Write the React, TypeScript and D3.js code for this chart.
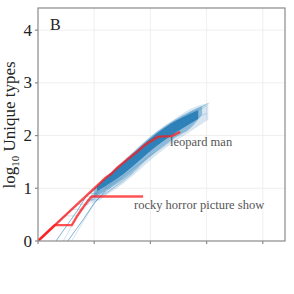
import React from "react";
import * as d3 from "d3";

// log10 tokens vs log10 unique types
const leopardMan: [number, number][] = [
  [0, 0], [1.0, 1.0], [1.19, 1.19], [1.31, 1.28], [1.4, 1.38], [1.58, 1.54],
  [1.76, 1.69], [1.9, 1.82], [2.14, 1.98], [2.38, 1.99], [2.47, 2.04], [2.53, 2.07],
];
const rockyHorror: [number, number][] = [
  [0, 0], [0.301, 0.301], [0.602, 0.301], [0.699, 0.477], [0.778, 0.602],
  [0.845, 0.699], [0.903, 0.778], [0.954, 0.845], [1.87, 0.845],
];

// simulated runs, envelopes of the bundle
const bandUpper: [number, number][] = [
  [0.95, 0.95], [1.52, 1.52], [2.11, 2.08], [2.45, 2.33], [2.7, 2.5], [3.03, 2.62],
];
const bandLower: [number, number][] = [
  [0.95, 0.7], [1.52, 1.09], [2.11, 1.63], [2.45, 1.9], [2.7, 2.07], [2.95, 2.3],
];
const midUpper: [number, number][] = [
  [1.0, 1.0], [1.52, 1.51], [2.11, 2.07], [2.45, 2.31], [2.7, 2.45], [2.92, 2.55],
];
const midLower: [number, number][] = [
  [1.0, 0.82], [1.52, 1.17], [2.11, 1.7], [2.45, 1.97], [2.7, 2.13], [2.92, 2.4],
];
const coreUpper: [number, number][] = [
  [1.05, 1.05], [1.2, 1.2], [1.52, 1.49], [2.11, 2.04], [2.45, 2.28], [2.7, 2.41], [2.85, 2.48],
];
const coreLower: [number, number][] = [
  [1.05, 0.95], [1.2, 1.04], [1.52, 1.27], [2.11, 1.8], [2.45, 2.06], [2.7, 2.22], [2.85, 2.32],
];
// a few single runs that show outside the bundle
const blueRuns: [number, number][][] = [
  [[0.32, 0], [0.71, 0.59], [0.85, 0.84], [1.05, 1.02]],
  [[0.53, 0], [0.8, 0.4], [1.0, 0.72], [1.2, 0.95]],
  [[0.45, 0], [0.7, 0.48], [0.9, 0.78], [1.1, 0.98]],
  [[0.6, 0], [0.85, 0.45], [1.05, 0.78], [1.3, 1.02]],
  [[0, 0], [0.477, 0.477], [0.72, 0.477], [0.9, 0.8], [1.05, 0.95]],
  [[0, 0], [0.602, 0.602], [0.82, 0.602], [0.98, 0.85], [1.1, 0.98]],
  [[0, 0], [0.699, 0.699], [0.9, 0.699], [1.05, 0.9]],
  [[0, 0], [0.778, 0.778], [0.95, 0.778], [1.1, 0.96]],
  [[0.85, 0.845], [1.0, 0.845], [1.2, 0.98], [1.5, 1.2]],
  [[0.9, 0.9], [1.05, 0.9], [1.25, 1.05], [1.6, 1.35]],
  [[0.95, 0.78], [1.1, 0.78], [1.3, 0.98], [1.7, 1.3]],
  [[0.9, 0.75], [1.2, 0.9], [1.5, 1.12], [1.8, 1.4]],
  [[1.2, 1.0], [1.6, 1.3], [2.0, 1.62], [2.4, 1.92]],
  [[2.5, 2.3], [2.8, 2.5], [3.05, 2.62]],
  [[2.5, 2.25], [2.8, 2.45], [3.0, 2.56]],
  [[2.6, 2.2], [2.85, 2.35], [3.0, 2.42]],
  [[2.4, 2.2], [2.7, 2.42], [2.98, 2.58]],
];
const yTicks = [0, 1, 2, 3, 4];
const xTicks = [0, 1, 2, 3, 4];

export default function App() {
  const x = d3.scaleLinear().domain([0, 4.395]).range([38, 285]);
  const y = d3.scaleLinear().domain([0, 4.42]).range([241, 8]);
  const poly = d3.line<[number, number]>().x(d => x(d[0])).y(d => y(d[1]));
  const area = (up: [number, number][], lo: [number, number][]) =>
    d3.area<[number, number]>()
      .x(d => x(d[0]))
      .y0((d, i) => y(lo[i][1]))
      .y1(d => y(d[1]))
      .curve(d3.curveMonotoneX)(up) || "";

  const font = "Liberation Serif";

  return (
    <svg width={294} height={294} style={{ position: "absolute", left: 0, top: 0, background: "#fff" }}>
      <defs>
        <clipPath id="plot">
          <rect x={38} y={8} width={247} height={233} />
        </clipPath>
      </defs>
      {/* grid */}
      {yTicks.slice(1).map(t => (
        <line key={"gy" + t} x1={38} x2={285} y1={y(t)} y2={y(t)} stroke="#ebebeb" strokeWidth={0.8} />
      ))}
      {xTicks.slice(1).map(t => (
        <line key={"gx" + t} x1={x(t)} x2={x(t)} y1={8} y2={241} stroke="#ebebeb" strokeWidth={0.8} />
      ))}

      <g clipPath="url(#plot)">
        {/* blue bundle */}
        <path d={area(bandUpper, bandLower)} fill="#1f77b4" opacity={0.18} />
        <path d={area(midUpper, midLower)} fill="#1f77b4" opacity={0.4} />
        <path d={area(coreUpper, coreLower)} fill="#1f77b4" opacity={0.85} />
        {blueRuns.map((r, i) => (
          <path key={"b" + i} d={poly(r) || ""} fill="none" stroke="#1f77b4" strokeWidth={0.7} opacity={i < 2 ? 0.8 : 0.3} />
        ))}
        {/* red films */}
        <path d={poly(rockyHorror) || ""} fill="none" stroke="#ff1a1a" strokeWidth={2.4} opacity={0.75} strokeLinejoin="round" />
        <path d={poly(leopardMan) || ""} fill="none" stroke="#ff1a1a" strokeWidth={2.4} opacity={0.75} strokeLinejoin="round" />
      </g>

      {/* frame */}
      <rect x={38} y={8} width={247} height={233} fill="none" stroke="#8a8a8a" strokeWidth={1.2} />
      {yTicks.map(t => (
        <g key={"ty" + t}>
          <line x1={35} x2={38} y1={y(t)} y2={y(t)} stroke="#8a8a8a" strokeWidth={1.2} />
          <text x={32} y={y(t) + 5.5} textAnchor="end" fontFamily={font} fontSize={17} fill="#222">{t}</text>
        </g>
      ))}
      {xTicks.map(t => (
        <line key={"tx" + t} x1={x(t)} x2={x(t)} y1={241} y2={244} stroke="#8a8a8a" strokeWidth={1.2} />
      ))}

      <text transform="translate(15,125) rotate(-90)" textAnchor="middle" fontFamily={font} fontSize={17} fill="#222">
        log<tspan fontSize={11} dy={4}>10</tspan><tspan dy={-4}> Unique types</tspan>
      </text>
      <text x={50} y={30} fontFamily={font} fontSize={16} fill="#222">B</text>

      <text x={170} y={146} fontFamily={font} fontSize={12.5} fill="#555">leopard man</text>
      <text x={134} y={209} fontFamily={font} fontSize={12.5} fill="#555">rocky horror picture show</text>
    </svg>
  );
}
